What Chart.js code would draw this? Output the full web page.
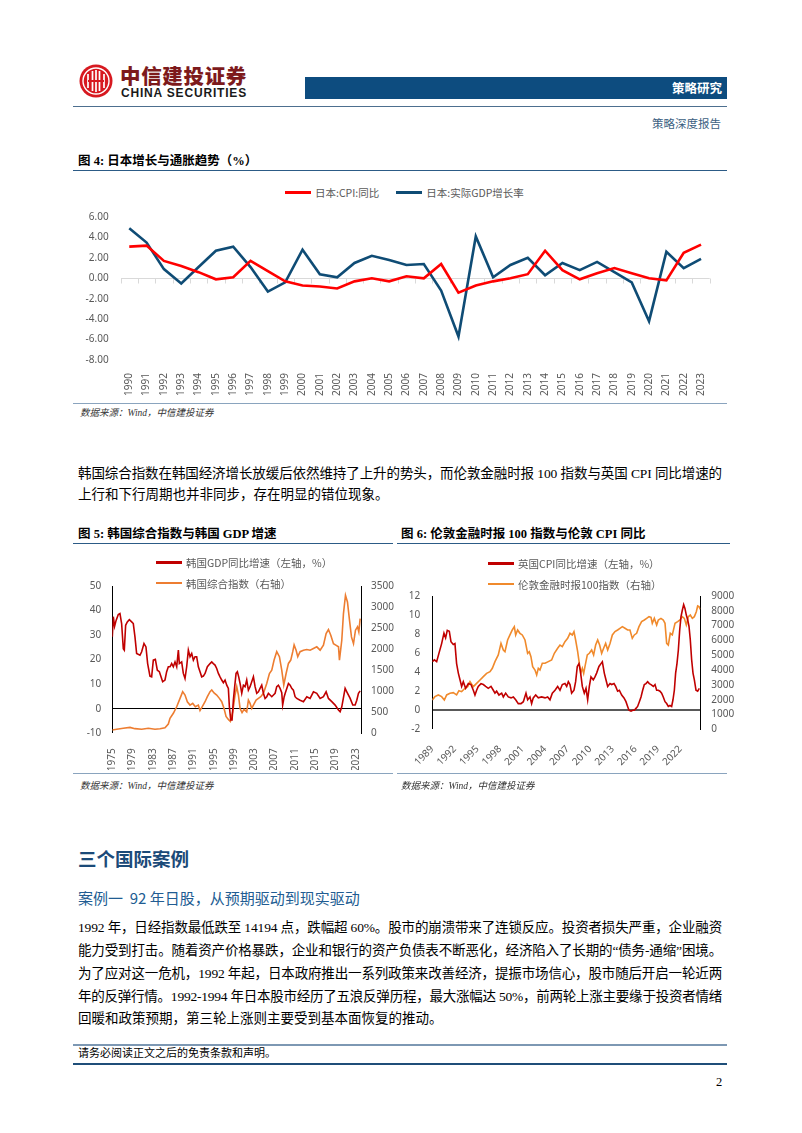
<!DOCTYPE html>
<html lang="zh-CN">
<head>
<meta charset="utf-8">
<title>日本增长与通胀趋势</title>
<script src="https://cdn.jsdelivr.net/npm/chart.js@4.4.1/dist/chart.umd.min.js"></script>
<style>
  html, body { margin: 0; padding: 0; background: #fff; }
  body { width: 802px; height: 1133px; position: relative; overflow: hidden;
         font-family: "Liberation Serif", "Noto Sans CJK SC", serif; color: #000; }
  .abs { position: absolute; white-space: nowrap; }
  .rule { position: absolute; height: 0; }
  .fig-title { font-size: 12.5px; font-weight: bold; line-height: 16px; }
  .src { font-size: 9.5px; font-style: italic; color: #333; line-height: 14px; }
  .body-line { font-size: 13.5px; line-height: 20px; display: inline-block; }
  .legend { position: absolute; display: flex; font-family: "Noto Sans CJK SC", sans-serif;
            font-size: 10.5px; color: #595959; }
  .legend.row { flex-direction: row; gap: 17px; }
  .legend.col { flex-direction: column; }
  .lg-item { display: flex; align-items: center; height: 15px; white-space: nowrap; }
  .legend.col .lg-item { height: 20.7px; }
  .lg-line { display: inline-block; width: 26px; height: 3px; margin-right: 4px; }
  canvas { position: absolute; }
</style>
</head>
<body>

<!-- header -->
<svg class="abs" style="left:79px;top:64px" width="34" height="34" viewBox="0 0 34 34">
  <circle cx="17" cy="17" r="16.5" fill="#d71920"/>
  <circle cx="17" cy="17" r="13" fill="none" stroke="#fff" stroke-width="1.4"/>
  <path d="M9 10 V24 M13.5 7 V27 M17 6 V28 M20.5 7 V27 M25 10 V24" stroke="#fff" stroke-width="1.7" fill="none"/>
  <path d="M9 17 H25" stroke="#d71920" stroke-width="2"/>
</svg>
<div class="abs" id="logo-cn" style="left:120px;top:63px;font-family:'Noto Sans CJK SC',sans-serif;font-weight:900;font-size:20.5px;line-height:24px;color:#7d1a1c;">中信建投证券</div>
<div class="abs" id="logo-en" style="left:121px;top:86px;font-family:'Liberation Sans',sans-serif;font-weight:bold;font-size:12px;line-height:15px;color:#1a1a1a;">CHINA SECURITIES</div>
<div class="abs" style="left:305px;top:77px;width:422px;height:22px;background:#0d4c7f;"></div>
<div class="abs" style="left:672px;top:79px;width:50px;text-align:right;font-family:'Noto Sans CJK SC',sans-serif;font-weight:bold;font-size:12.5px;line-height:18px;color:#fff;">策略研究</div>
<div class="rule" style="left:73px;top:106px;width:654px;border-top:1px solid #4d6f8f;"></div>
<div class="abs" style="left:652px;top:116px;font-size:11.5px;line-height:16px;color:#3d5f82;">策略深度报告</div>

<!-- figure 4 -->
<div class="abs fig-title" style="left:78px;top:153px;">图 4: 日本增长与通胀趋势（%）</div>
<div class="rule" style="left:73px;top:169.5px;width:654px;border-top:1.5px solid #2c5b86;"></div>
<div class="legend row" id="lg1" style="left:285px;top:185px;"></div>
<canvas id="c1" width="654" height="201" style="left:73px;top:199px;"></canvas>
<div class="rule" style="left:73px;top:403px;width:654px;border-top:1px solid #8aa4be;"></div>
<div class="abs src" style="left:80px;top:406px;">数据来源：Wind，中信建投证券</div>

<span class="abs body-line fit" data-w="644" style="left:78px;top:464px;">韩国综合指数在韩国经济增长放缓后依然维持了上升的势头，而伦敦金融时报 100 指数与英国 CPI 同比增速的</span>
<span class="abs body-line" style="left:78px;top:485px;">上行和下行周期也并非同步，存在明显的错位现象。</span>

<!-- figure 5 / 6 -->
<div class="abs fig-title" style="left:78px;top:526px;">图 5: 韩国综合指数与韩国 GDP 增速</div>
<div class="abs fig-title" style="left:401px;top:526px;">图 6: 伦敦金融时报 100 指数与伦敦 CPI 同比</div>
<div class="rule" style="left:73px;top:543px;width:320px;border-top:1.5px solid #2c5b86;"></div>
<div class="rule" style="left:397px;top:543px;width:333px;border-top:1.5px solid #2c5b86;"></div>

<canvas id="c5" width="330" height="201" style="left:73px;top:569px;"></canvas>
<div class="legend col" id="lg5" style="left:156px;top:552px;"></div>

<div class="abs" style="left:397px;top:575px;width:340px;height:195px;overflow:hidden;">
  <canvas id="c6" width="350" height="195" style="left:0;top:0;"></canvas>
</div>
<div class="legend col" id="lg6" style="left:488px;top:553px;"></div>

<div class="rule" style="left:73px;top:772.5px;width:320px;border-top:1px solid #8aa4be;"></div>
<div class="rule" style="left:397px;top:772.5px;width:330px;border-top:1px solid #8aa4be;"></div>
<div class="abs src" style="left:80px;top:779px;">数据来源：Wind，中信建投证券</div>
<div class="abs src" style="left:401px;top:779px;">数据来源：Wind，中信建投证券</div>

<!-- text section -->
<div class="abs" style="left:78px;top:845px;font-family:'Noto Sans CJK SC',sans-serif;font-weight:bold;font-size:18.5px;line-height:26px;color:#1b4a78;">三个国际案例</div>
<div class="abs" style="left:78px;top:887px;font-family:'Noto Sans CJK SC',sans-serif;font-size:15px;line-height:22px;color:#215c92;">案例一&nbsp; 92 年日股，从预期驱动到现实驱动</div>

<span class="abs body-line fit" data-w="644" style="left:78px;top:918px;">1992 年，日经指数最低跌至 14194 点，跌幅超 60%。股市的崩溃带来了连锁反应。投资者损失严重，企业融资</span>
<span class="abs body-line fit" data-w="644" style="left:78px;top:941px;">能力受到打击。随着资产价格暴跌，企业和银行的资产负债表不断恶化，经济陷入了长期的“债务-通缩”困境。</span>
<span class="abs body-line fit" data-w="644" style="left:78px;top:964px;">为了应对这一危机，1992 年起，日本政府推出一系列政策来改善经济，提振市场信心，股市随后开启一轮近两</span>
<span class="abs body-line fit" data-w="644" style="left:78px;top:987px;">年的反弹行情。1992-1994 年日本股市经历了五浪反弹历程，最大涨幅达 50%，前两轮上涨主要缘于投资者情绪</span>
<span class="abs body-line" style="left:78px;top:1009px;">回暖和政策预期，第三轮上涨则主要受到基本面恢复的推动。</span>

<!-- footer -->
<div class="rule" style="left:73px;top:1044px;width:654px;border-top:2px solid #7d98b3;"></div>
<div class="abs" style="left:78px;top:1046px;font-size:11px;line-height:15px;">请务必阅读正文之后的免责条款和声明。</div>
<div class="rule" style="left:73px;top:1063px;width:654px;border-top:2px solid #1f4e79;"></div>
<div class="abs" style="left:716px;top:1074px;font-size:12.5px;line-height:16px;">2</div>

<script>
// ---- Figure 4: Japan CPI & real GDP (%)
const jpYears = ['1990','1991','1992','1993','1994','1995','1996','1997','1998','1999',
                 '2000','2001','2002','2003','2004','2005','2006','2007','2008','2009',
                 '2010','2011','2012','2013','2014','2015','2016','2017','2018','2019',
                 '2020','2021','2022','2023'];
const jpCpi = [3.1, 3.2, 1.7, 1.2, 0.6, -0.1, 0.1, 1.7, 0.7, -0.3,
               -0.7, -0.8, -1.0, -0.3, 0.0, -0.3, 0.2, 0.0, 1.4, -1.4,
               -0.7, -0.3, 0.0, 0.4, 2.7, 0.8, -0.1, 0.5, 1.0, 0.5,
               0.0, -0.2, 2.5, 3.3];
const jpGdp = [4.9, 3.5, 0.9, -0.5, 1.1, 2.7, 3.1, 1.1, -1.3, -0.4,
               2.8, 0.4, 0.1, 1.5, 2.2, 1.8, 1.3, 1.4, -1.2, -5.7,
               4.1, 0.1, 1.3, 2.0, 0.3, 1.5, 0.8, 1.6, 0.6, -0.4,
               -4.2, 2.6, 1.0, 1.9];

// ---- Figure 5: Korea GDP yoy (left) & KOSPI (right)
const krYearTicks = [1975, 1979, 1983, 1987, 1991, 1995, 1999, 2003, 2007, 2011, 2015, 2019, 2023];
const krGdpT = [1975.00, 1975.20, 1975.45, 1975.75, 1976.18, 1976.51, 1976.84, 1977.17, 1977.37, 1977.63,
                1977.96, 1978.36, 1978.82, 1979.14, 1979.47, 1979.80, 1980.46, 1980.79, 1981.25, 1981.64,
                1981.97, 1982.43, 1982.76, 1983.09, 1983.49, 1983.88, 1984.28, 1984.61, 1984.93, 1985.39,
                1985.72, 1986.05, 1986.38, 1986.71, 1987.04, 1987.37, 1987.70, 1988.03, 1988.22, 1988.68,
                1989.01, 1989.34, 1989.67, 1990.00, 1990.33, 1990.66, 1990.99, 1991.32, 1991.64, 1991.97,
                1992.30, 1992.63, 1992.96, 1993.29, 1993.75, 1994.28, 1994.61, 1994.93, 1995.26, 1995.59,
                1995.92, 1996.25, 1996.58, 1996.91, 1997.24, 1997.57, 1997.89, 1998.09, 1998.36, 1998.62,
                1998.88, 1999.14, 1999.41, 1999.67, 1999.93, 2000.20, 2000.53, 2000.86, 2001.18, 2001.51,
                2001.84, 2002.17, 2002.50, 2002.83, 2003.16, 2003.49, 2003.82, 2004.14, 2004.47, 2004.80,
                2005.13, 2005.46, 2005.79, 2006.12, 2006.45, 2006.78, 2007.11, 2007.43, 2007.76, 2008.09,
                2008.42, 2008.60, 2008.90, 2009.10, 2009.74, 2010.07, 2010.39, 2010.72, 2011.05, 2011.38,
                2012.04, 2012.70, 2013.36, 2014.01, 2014.67, 2015.33, 2015.99, 2016.64, 2017.17, 2017.63,
                2018.29, 2018.95, 2019.61, 2019.93, 2020.26, 2020.92, 2021.25, 2021.91, 2022.43, 2022.89,
                2023.22, 2023.55, 2023.88];
const krGdpV = [29.3, 37.5, 33.6, 36.0, 38.4, 38.8, 34.7, 24.5, 23.9, 34.0,
                35.4, 36.3, 35.4, 34.7, 29.3, 22.5, 21.8, 23.2, 26.6, 25.2,
                18.4, 13.3, 13.0, 19.8, 20.1, 15.7, 15.1, 13.0, 11.0, 11.7,
                15.1, 17.1, 17.1, 18.4, 17.1, 19.1, 17.1, 23.9, 18.4, 19.1,
                14.4, 12.3, 17.1, 23.9, 21.2, 22.5, 19.8, 21.2, 21.2, 17.1,
                15.1, 13.0, 13.3, 14.4, 17.1, 18.4, 19.1, 18.4, 17.8, 16.4,
                14.4, 13.0, 11.7, 10.6, 11.7, 9.6, 8.3, 0.8, -4.6, -4.6,
                3.5, 9.0, 14.4, 15.1, 13.0, 10.3, 6.3, 9.6, 9.0, 11.7,
                7.6, 9.0, 11.0, 13.0, 9.0, 6.3, 6.9, 8.3, 9.6, 6.3,
                4.2, 4.9, 6.3, 5.6, 4.9, 5.6, 6.3, 9.0, 9.6, 8.3,
                6.5, 1.5, 4.9, 6.3, 10.3, 9.6, 8.3, 7.6, 4.9, 4.2,
                3.5, 2.9, 4.9, 4.2, 6.9, 6.3, 4.2, 4.9, 6.9, 4.2,
                2.9, 1.5, -0.5, -1.2, 0.8, 8.3, 6.9, 4.2, 1.5, 1.5,
                3.5, 6.3, 7.3];
const krIdxT = [1975.00, 1975.86, 1977.17, 1978.49, 1979.47, 1980.79, 1982.11, 1983.42, 1984.41, 1985.39,
                1986.05, 1986.38, 1987.04, 1987.70, 1988.36, 1988.88, 1989.34, 1989.80, 1990.33, 1990.86,
                1991.38, 1991.97, 1992.30, 1992.83, 1993.29, 1993.75, 1994.28, 1994.61, 1995.07, 1995.59,
                1996.12, 1996.58, 1997.04, 1997.43, 1997.89, 1998.29, 1998.75, 1999.21, 1999.54, 1999.87,
                2000.20, 2000.59, 2000.99, 2001.51, 2001.84, 2002.17, 2002.50, 2002.83, 2003.36, 2003.82,
                2004.28, 2004.80, 2005.46, 2005.99, 2006.45, 2006.91, 2007.43, 2007.96, 2008.42, 2008.82,
                2009.28, 2009.74, 2010.20, 2010.59, 2010.86, 2011.25, 2011.58, 2012.04, 2012.70, 2013.36,
                2014.01, 2014.67, 2015.33, 2015.99, 2016.64, 2017.17, 2017.63, 2018.09, 2018.62, 2019.08,
                2019.61, 2019.80, 2020.26, 2020.59, 2020.99, 2021.38, 2021.78, 2022.17, 2022.57, 2022.96,
                2023.36, 2023.62, 2023.88];
const krIdxV = [80, 95, 120, 140, 110, 95, 120, 95, 110, 130,
                220, 355, 475, 630, 830, 990, 910, 750, 670, 710,
                630, 670, 540, 650, 750, 870, 990, 1030, 960, 910,
                830, 750, 590, 400, 330, 280, 510, 910, 1110, 910,
                590, 490, 570, 510, 790, 710, 590, 670, 790, 830,
                870, 950, 1185, 1420, 1500, 1740, 1940, 1820, 1500, 1150,
                1420, 1660, 1740, 1940, 2100, 1975, 1820, 1940, 1975, 1990,
                1975, 2015, 2055, 1975, 2095, 2370, 2465, 2330, 2130, 2095,
                2055, 1740, 2210, 2845, 3280, 3120, 2690, 2290, 2130, 2450,
                2530, 2410, 2725];

// ---- Figure 6: UK CPI yoy (left) & FTSE 100 (right)
const ukYearTicks = [1989, 1992, 1995, 1998, 2001, 2004, 2007, 2010, 2013, 2016, 2019, 2022];
const ukCpiT = [1989.00, 1989.27, 1989.58, 1989.89, 1990.24, 1990.55, 1990.77, 1990.99, 1991.26, 1991.48,
                1991.79, 1992.01, 1992.23, 1992.46, 1992.68, 1992.90, 1993.12, 1993.43, 1993.79, 1994.14,
                1994.45, 1994.67, 1994.89, 1995.11, 1995.47, 1995.78, 1996.09, 1996.44, 1996.80, 1997.11,
                1997.33, 1997.55, 1997.86, 1998.22, 1998.44, 1998.75, 1999.10, 1999.46, 1999.77, 2000.08,
                2000.43, 2000.79, 2001.10, 2001.45, 2001.67, 2001.98, 2002.20, 2002.42, 2002.74, 2003.09,
                2003.53, 2003.98, 2004.33, 2004.64, 2004.95, 2005.31, 2005.66, 2005.97, 2006.28, 2006.63,
                2006.86, 2007.08, 2007.30, 2007.52, 2007.83, 2008.05, 2008.27, 2008.49, 2008.67, 2008.94,
                2009.20, 2009.43, 2009.65, 2009.87, 2010.09, 2010.40, 2010.62, 2010.84, 2011.15, 2011.42,
                2011.60, 2011.86, 2012.08, 2012.31, 2012.62, 2012.84, 2013.15, 2013.37, 2013.63, 2013.86,
                2014.17, 2014.48, 2014.74, 2014.96, 2015.14, 2015.41, 2015.63, 2015.85, 2016.07, 2016.29,
                2016.52, 2016.74, 2016.96, 2017.18, 2017.40, 2017.62, 2017.84, 2018.07, 2018.38, 2018.60,
                2018.82, 2019.04, 2019.26, 2019.48, 2019.70, 2019.93, 2020.15, 2020.37, 2020.59, 2020.81,
                2020.99, 2021.17, 2021.34, 2021.52, 2021.70, 2021.88, 2022.05, 2022.23, 2022.41, 2022.58,
                2022.76, 2022.94, 2023.12, 2023.29, 2023.47, 2023.65, 2023.83, 2024.05, 2024.27, 2024.49];
const ukCpiV = [5.1, 5.3, 5.1, 6.0, 7.0, 8.1, 7.6, 8.4, 8.3, 7.2,
                6.9, 7.0, 4.9, 3.9, 3.2, 2.5, 3.0, 2.3, 2.8, 2.7,
                2.1, 1.6, 2.1, 2.5, 2.8, 2.7, 2.5, 2.3, 2.5, 2.1,
                1.8, 2.0, 1.6, 1.8, 1.4, 1.8, 1.4, 1.3, 1.4, 1.1,
                0.7, 0.7, 0.9, 1.8, 1.1, 1.4, 0.7, 1.3, 1.6, 1.3,
                1.4, 1.3, 1.4, 1.1, 1.8, 2.1, 2.5, 2.1, 2.7, 2.8,
                2.5, 3.0, 2.7, 1.8, 2.1, 3.0, 4.6, 4.9, 4.2, 2.5,
                1.8, 2.3, 1.1, 2.5, 3.5, 3.2, 3.5, 3.9, 4.6, 4.9,
                5.1, 3.9, 3.2, 2.5, 2.8, 2.7, 2.8, 2.5, 2.0, 2.1,
                1.6, 1.3, 0.9, 0.4, 0.0, -0.1, 0.0, 0.0, 0.2, 0.4,
                0.9, 1.4, 2.1, 2.7, 2.8, 3.0, 2.8, 2.7, 2.5, 2.7,
                2.1, 2.1, 2.0, 1.8, 1.4, 0.9, 0.7, 0.4, 0.5, 0.4,
                1.1, 2.1, 3.9, 4.9, 6.3, 8.4, 9.8, 10.5, 11.1, 10.7,
                10.0, 9.5, 8.8, 7.4, 5.3, 3.9, 3.2, 2.1, 2.0, 2.3];
const ftseT = [1989.00, 1989.35, 1989.80, 1990.24, 1990.60, 1990.91, 1991.35, 1991.79, 1992.23, 1992.54,
               1992.90, 1993.34, 1993.70, 1994.01, 1994.45, 1994.89, 1995.34, 1995.78, 1996.22, 1996.67,
               1996.98, 1997.33, 1997.77, 1998.13, 1998.44, 1998.66, 1999.01, 1999.32, 1999.63, 1999.90,
               2000.08, 2000.34, 2000.65, 2000.96, 2001.32, 2001.67, 2001.89, 2002.11, 2002.34, 2002.65,
               2002.87, 2003.09, 2003.31, 2003.62, 2003.98, 2004.42, 2004.86, 2005.22, 2005.66, 2005.97,
               2006.28, 2006.63, 2006.99, 2007.30, 2007.61, 2007.83, 2008.05, 2008.32, 2008.54, 2008.72,
               2008.94, 2009.12, 2009.29, 2009.60, 2009.87, 2010.18, 2010.44, 2010.71, 2010.98, 2011.24,
               2011.51, 2011.77, 2012.04, 2012.31, 2012.62, 2012.93, 2013.28, 2013.63, 2013.94, 2014.26,
               2014.61, 2014.96, 2015.27, 2015.58, 2015.85, 2016.16, 2016.47, 2016.82, 2017.18, 2017.49,
               2017.80, 2018.07, 2018.24, 2018.51, 2018.82, 2019.04, 2019.39, 2019.70, 2019.93, 2020.15,
               2020.37, 2020.63, 2020.90, 2021.26, 2021.61, 2021.92, 2022.23, 2022.50, 2022.76, 2023.03,
               2023.29, 2023.56, 2023.83, 2024.09, 2024.27, 2024.45, 2024.62];
const ftseV = [1980, 2205, 2320, 2205, 1980, 2320, 2430, 2475, 2320, 2610,
               2540, 2770, 2880, 3220, 2880, 3100, 3330, 3555, 3780, 3890,
               4120, 4570, 5020, 5800, 5355, 5240, 6030, 6370, 6705, 6930,
               6370, 6705, 6480, 6370, 6030, 5130, 5240, 4900, 4230, 4000,
               3670, 4120, 4000, 4455, 4455, 4570, 4680, 5130, 5470, 5690,
               5580, 5915, 6140, 6480, 6370, 6595, 6030, 5240, 4455, 3780,
               4120, 3780, 4230, 5020, 5130, 5355, 5020, 5690, 6030, 5690,
               5130, 5470, 5800, 5355, 5800, 6370, 6595, 6705, 6820, 6930,
               6820, 6705, 6705, 6140, 6370, 6480, 6930, 7270, 7380, 7490,
               7605, 7560, 7155, 7490, 7040, 7380, 7490, 7380, 7155, 5800,
               5690, 6480, 6370, 7155, 7270, 7380, 7605, 7490, 7040, 7605,
               7715, 7490, 7605, 7940, 8325, 8280, 8100];

const jpCpiLabel = '日本:CPI:同比';
const jpGdpLabel = '日本:实际GDP增长率';
const krGdpLabel = '韩国GDP同比增速（左轴，%）';
const krIdxLabel = '韩国综合指数（右轴）';
const ukCpiLabel = '英国CPI同比增速（左轴，%）';
const ftseLabel = '伦敦金融时报100指数（右轴）';

Chart.defaults.font.family = '"Noto Sans", "Noto Sans CJK SC", sans-serif';
Chart.defaults.font.size = 10;
Chart.defaults.color = '#595959';
Chart.defaults.animation = false;

const pts = (xs, ys) => xs.map((x, i) => ({ x: x, y: ys[i] }));
const plain = v => String(v);

// only the zero value gets a grid line
function zeroGrid(color, width) {
  return {
    drawTicks: false,
    color: ctx => (ctx.tick && ctx.tick.value === 0) ? color : 'rgba(0,0,0,0)',
    lineWidth: ctx => (ctx.tick && ctx.tick.value === 0) ? width : 0
  };
}

// small tick marks on the zero line between categories (figure 4)
const zeroTicks = {
  id: 'zeroTicks',
  beforeDatasetsDraw(chart) {
    const xs = chart.scales.x, ys = chart.scales.y, ctx = chart.ctx;
    const y0 = Math.round(ys.getPixelForValue(0)) + 0.5;
    const half = (xs.getPixelForValue(1) - xs.getPixelForValue(0)) / 2;
    ctx.save();
    ctx.strokeStyle = '#d9d9d9';
    ctx.lineWidth = 1;
    ctx.beginPath();
    for (let i = 0; i <= jpYears.length; i++) {
      const px = Math.round(xs.getPixelForValue(i) - half) + 0.5;
      ctx.moveTo(px, y0);
      ctx.lineTo(px, y0 + 5);
    }
    ctx.stroke();
    ctx.restore();
  }
};

function htmlLegend(id, chart, lineH) {
  const box = document.getElementById(id);
  chart.data.datasets.forEach(ds => {
    const item = document.createElement('div');
    item.className = 'lg-item';
    const line = document.createElement('span');
    line.className = 'lg-line';
    line.style.background = ds.borderColor;
    line.style.height = lineH + 'px';
    const txt = document.createElement('span');
    txt.textContent = ds.label;
    item.append(line, txt);
    box.appendChild(item);
  });
}

// Figure 4
const chart1 = new Chart(document.getElementById('c1'), {
  type: 'line',
  data: {
    labels: jpYears,
    datasets: [
      { label: jpCpiLabel, data: jpCpi, borderColor: '#ff0000', backgroundColor: '#ff0000',
        borderWidth: 2.6, pointRadius: 0 },
      { label: jpGdpLabel, data: jpGdp, borderColor: '#0f4c75', backgroundColor: '#0f4c75',
        borderWidth: 2.6, pointRadius: 0 }
    ]
  },
  options: {
    responsive: false,
    layout: { padding: { top: 0, right: 17.3 } },
    plugins: { legend: { display: false }, tooltip: { enabled: false } },
    scales: {
      x: {
        offset: true,
        grid: { display: false },
        border: { display: false },
        ticks: { autoSkip: false, minRotation: 90, maxRotation: 90, padding: 5, font: { size: 10 } },
        afterFit: s => { s.height = 40; }
      },
      y: {
        min: -8, max: 6,
        ticks: { stepSize: 2, padding: 12, callback: v => v.toFixed(2), font: { size: 10 } },
        grid: zeroGrid('#d9d9d9', 1),
        border: { display: false },
        afterFit: s => { s.width = 47.6; }
      }
    }
  },
  plugins: [zeroTicks]
});
htmlLegend('lg1', chart1, 3);

// Figure 5
const chart5 = new Chart(document.getElementById('c5'), {
  type: 'line',
  data: {
    datasets: [
      { label: krGdpLabel, data: pts(krGdpT, krGdpV), yAxisID: 'y', borderColor: '#c00000',
        borderWidth: 1.6, pointRadius: 0 },
      { label: krIdxLabel, data: pts(krIdxT, krIdxV), yAxisID: 'y2', borderColor: '#ed7d31',
        borderWidth: 1.6, pointRadius: 0 }
    ]
  },
  options: {
    responsive: false,
    layout: { padding: { top: 0 } },
    plugins: { legend: { display: false }, tooltip: { enabled: false } },
    scales: {
      x: {
        type: 'linear', min: 1975, max: 2024.05,
        afterBuildTicks: s => { s.ticks = krYearTicks.map(v => ({ value: v })); },
        ticks: { callback: plain, minRotation: 90, maxRotation: 90, padding: 7, font: { size: 10 } },
        grid: { display: false },
        border: { display: false },
        afterFit: s => { s.height = 36.7; }
      },
      y: {
        position: 'left', min: -10, max: 50,
        ticks: { stepSize: 10, padding: 11, font: { size: 10 } },
        grid: zeroGrid('#000', 1),
        border: { color: '#000' },
        afterFit: s => { s.width = 39.3; }
      },
      y2: {
        position: 'right', min: 0, max: 3500,
        ticks: { stepSize: 500, padding: 10, autoSkip: false, callback: plain, font: { size: 10 } },
        grid: { display: false, drawTicks: false },
        border: { color: '#000' },
        afterFit: s => { s.width = 42; }
      }
    }
  }
});
htmlLegend('lg5', chart5, 2.5);

// Figure 6
const chart6 = new Chart(document.getElementById('c6'), {
  type: 'line',
  data: {
    datasets: [
      { label: ukCpiLabel, data: pts(ukCpiT, ukCpiV), yAxisID: 'y', borderColor: '#c00000',
        borderWidth: 1.6, pointRadius: 0 },
      { label: ftseLabel, data: pts(ftseT, ftseV), yAxisID: 'y2', borderColor: '#f08a2c',
        borderWidth: 1.6, pointRadius: 0 }
    ]
  },
  options: {
    responsive: false,
    layout: { padding: { top: 21 } },
    plugins: { legend: { display: false }, tooltip: { enabled: false } },
    scales: {
      x: {
        type: 'linear', min: 1989, max: 2024.62,
        afterBuildTicks: s => { s.ticks = ukYearTicks.map(v => ({ value: v })); },
        ticks: { callback: plain, minRotation: 45, maxRotation: 45, padding: 6, font: { size: 10 } },
        grid: { display: false },
        border: { display: false },
        afterFit: s => { s.height = 40.7; }
      },
      y: {
        position: 'left', min: -2, max: 12,
        ticks: { stepSize: 2, padding: 12, autoSkip: false, font: { size: 10 } },
        grid: zeroGrid('#595959', 2),
        border: { color: '#000' },
        afterFit: s => { s.width = 35.3; }
      },
      y2: {
        position: 'right', min: 0, max: 9000,
        ticks: { stepSize: 1000, padding: 11, autoSkip: false, callback: plain, font: { size: 10 } },
        grid: { display: false, drawTicks: false },
        border: { color: '#000' },
        afterFit: s => { s.width = 46.7; }
      }
    }
  }
});
htmlLegend('lg6', chart6, 2.5);

// stretch justified text lines to their full width
function fitWidth(el, width) {
  el.style.letterSpacing = '0px';
  const w = el.getBoundingClientRect().width;
  const n = el.textContent.length;
  el.style.letterSpacing = ((width - w) / n) + 'px';
}
document.querySelectorAll('.fit').forEach(el => fitWidth(el, +el.dataset.w));
fitWidth(document.getElementById('logo-cn'), 127);
fitWidth(document.getElementById('logo-en'), 126);
</script>
</body>
</html>
